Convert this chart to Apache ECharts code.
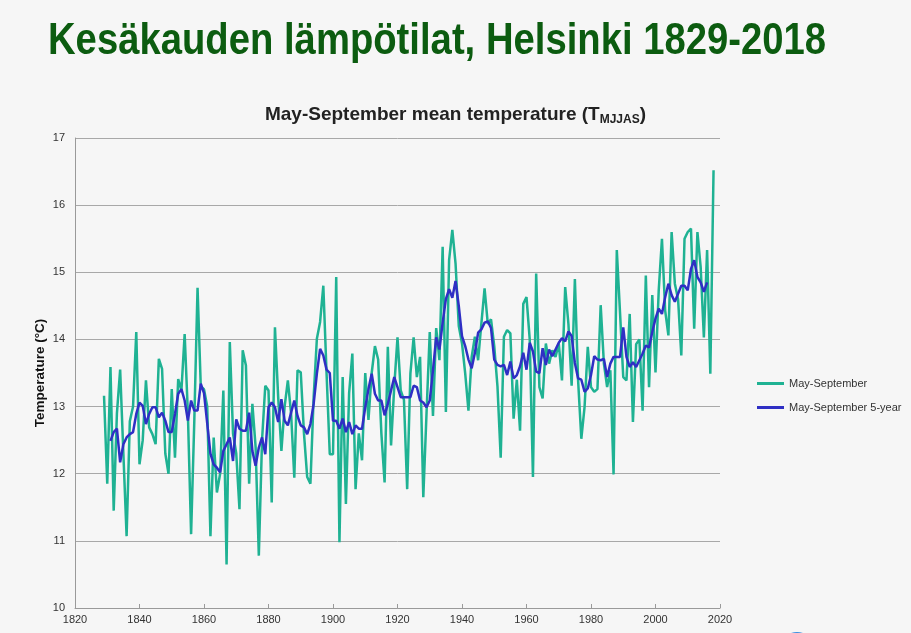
<!DOCTYPE html>
<html>
<head>
<meta charset="utf-8">
<script src="https://cdn.jsdelivr.net/npm/echarts@6/dist/echarts.min.js"></script>
<style>
html,body{margin:0;padding:0;background:#f6f6f6;}
#chart{width:911px;height:633px;}
</style>
</head>
<body>
<div id="chart"></div>
<script>
// Annual May-September mean temperature, 1829-2018
const annualStartYear = 1829;
const annualValues = [
13.16,11.85,13.59,11.45,12.9,13.55,12.3,11.07,12.78,13.0,
14.11,12.14,12.5,13.39,12.69,12.59,12.44,13.71,13.56,12.3,
12.0,13.26,12.24,13.41,13.24,14.08,12.9,11.1,12.8,14.77,
13.3,13.26,13.0,11.07,12.54,11.72,12.0,13.24,10.65,13.96,
12.6,12.3,11.47,13.84,13.61,11.85,13.04,12.4,10.78,12.5,
13.31,13.24,11.57,14.18,13.14,12.34,13.0,13.39,12.9,11.94,
13.54,13.51,12.6,11.95,11.85,13.14,14.01,14.26,14.8,13.5,
12.29,12.29,14.93,10.98,13.44,11.55,13.2,13.79,11.77,12.6,
12.2,13.5,12.8,13.5,13.9,13.7,12.6,11.87,13.89,12.42,
13.3,14.03,13.24,13.1,11.77,13.49,14.03,13.44,13.74,11.65,
12.9,14.11,12.86,14.17,13.69,15.38,12.92,15.18,15.63,15.13,
14.2,13.94,13.49,12.94,13.74,14.04,13.69,14.23,14.76,14.23,
14.3,13.9,13.3,12.24,14.04,14.14,14.09,12.82,13.4,12.64,
14.53,14.63,14.0,11.95,14.98,13.29,13.12,13.94,13.64,13.84,
13.74,13.94,13.39,14.78,14.23,13.31,14.9,13.39,12.52,12.99,
13.89,13.29,13.22,13.26,14.51,13.64,13.29,13.54,11.99,15.33,
14.4,13.44,13.39,14.38,12.77,13.93,14.0,12.94,14.95,13.29,
14.66,13.51,14.73,15.5,14.43,14.06,15.6,14.83,14.6,13.76,
15.5,15.6,15.65,14.16,15.6,15.08,14.03,15.33,13.49,16.52
];

// 5-year running mean, 1831-2016
const smoothStartYear = 1831;
const smoothValues = [
12.49,12.62,12.67,12.17,12.44,12.54,12.59,12.62,12.89,13.06,
13.01,12.74,12.89,12.99,12.99,12.84,12.91,12.79,12.62,12.62,
12.89,13.19,13.26,13.09,12.79,13.09,12.94,12.94,13.34,13.2,
12.75,12.3,12.14,12.09,12.02,12.34,12.44,12.54,12.19,12.81,
12.67,12.64,12.64,12.91,12.34,12.12,12.39,12.54,12.29,12.99,
13.06,12.99,12.77,13.11,12.79,12.72,12.91,13.09,12.86,12.72,
12.69,12.59,12.74,13.04,13.49,13.86,13.76,13.55,13.5,12.79,
12.79,12.67,12.82,12.62,12.77,12.59,12.72,12.67,12.67,12.99,
13.26,13.49,13.19,13.09,13.09,12.87,13.04,13.24,13.44,13.29,
13.14,13.14,13.14,13.14,13.31,13.29,13.09,13.06,12.99,13.09,
13.54,14.03,13.85,14.25,14.6,14.75,14.62,14.87,14.5,14.05,
13.9,13.7,13.57,13.8,14.1,14.15,14.25,14.27,14.17,13.7,
13.62,13.6,13.62,13.47,13.67,13.42,13.47,13.6,13.8,13.55,
13.95,13.82,13.52,13.5,13.87,13.62,13.85,13.75,13.85,13.95,
14.02,13.97,14.12,14.05,13.65,13.42,13.4,13.22,13.27,13.47,
13.75,13.7,13.69,13.71,13.44,13.64,13.74,13.74,13.74,14.18,
13.74,13.59,13.66,13.59,13.69,13.79,13.91,13.88,14.11,14.31,
14.46,14.38,14.63,14.83,14.66,14.56,14.68,14.8,14.8,14.73,
15.05,15.18,14.93,14.85,14.71,14.85
];

const xTicks = [1820,1840,1860,1880,1900,1920,1940,1960,1980,2000,2020];
const yTicks = [10,11,12,13,14,15,16,17];

const seriesNames = ['May-September','May-September 5-year'];
const mainTitle = 'Kesäkauden lämpötilat, Helsinki 1829-2018';
const yAxisName = 'Temperature (°C)';

function pairs(start, vals){ return vals.map((v,i)=>[start+i, v]); }

const chart = echarts.init(document.getElementById('chart'), null, {renderer:'canvas'});
const font = 'Liberation Sans, Arial, sans-serif';
chart.setOption({
  backgroundColor:'#f6f6f6',
  animation:false,
  graphic:[
    {type:'text', left:48, top:19, scaleX:0.85,
     style:{text:mainTitle, font:'bold 45px "Liberation Sans", Arial, sans-serif', fill:'#0c5c10'}},
    {type:'circle', shape:{cx:797, cy:650, r:18}, style:{fill:'#3b8fe0'}}
  ],
  title:[
    {text:'May-September mean temperature (T{s|MJJAS})', left:'center', top:99,
     textStyle:{fontFamily:font, fontSize:19, fontWeight:'bold', color:'#222',
       rich:{s:{fontFamily:font, fontSize:12, fontWeight:'bold', color:'#222', padding:[10,0,0,0]}}}}
  ],
  legend:{
    orient:'vertical', left:752, top:373, itemGap:13, itemWidth:27, itemHeight:3,
    icon:'rect',
    textStyle:{fontFamily:font, fontSize:11, color:'#333'},
    data:seriesNames
  },
  grid:{left:75, right:191, top:138, bottom:25},
  xAxis:{
    type:'value', min:xTicks[0], max:xTicks[xTicks.length-1], interval:20,
    axisLine:{lineStyle:{color:'#9a9a9a'}},
    axisTick:{show:true, inside:true, length:4, lineStyle:{color:'#9a9a9a'}},
    splitLine:{show:false},
    axisLabel:{fontFamily:font, fontSize:11, color:'#333', margin:6, formatter:v=>String(v)}
  },
  yAxis:{
    type:'value', min:yTicks[0], max:yTicks[yTicks.length-1], interval:1,
    name:yAxisName, nameLocation:'middle', nameGap:28, nameMoveOverlap:false,
    nameTextStyle:{fontFamily:font, fontSize:13.5, fontWeight:'bold', color:'#111'},
    axisLine:{show:true, lineStyle:{color:'#9a9a9a'}},
    axisTick:{show:false},
    splitLine:{lineStyle:{color:'#a8a8a8', width:1}},
    axisLabel:{fontFamily:font, fontSize:11, color:'#333', margin:10}
  },
  series:[
    {name:seriesNames[0], type:'line', data:pairs(annualStartYear, annualValues),
     showSymbol:false, lineStyle:{color:'#1fb293', width:2.5}, itemStyle:{color:'#1fb293'}},
    {name:seriesNames[1], type:'line', data:pairs(smoothStartYear, smoothValues),
     showSymbol:false, lineStyle:{color:'#2f2fc4', width:2.5}, itemStyle:{color:'#2f2fc4'}}
  ]
});
</script>
</body>
</html>
